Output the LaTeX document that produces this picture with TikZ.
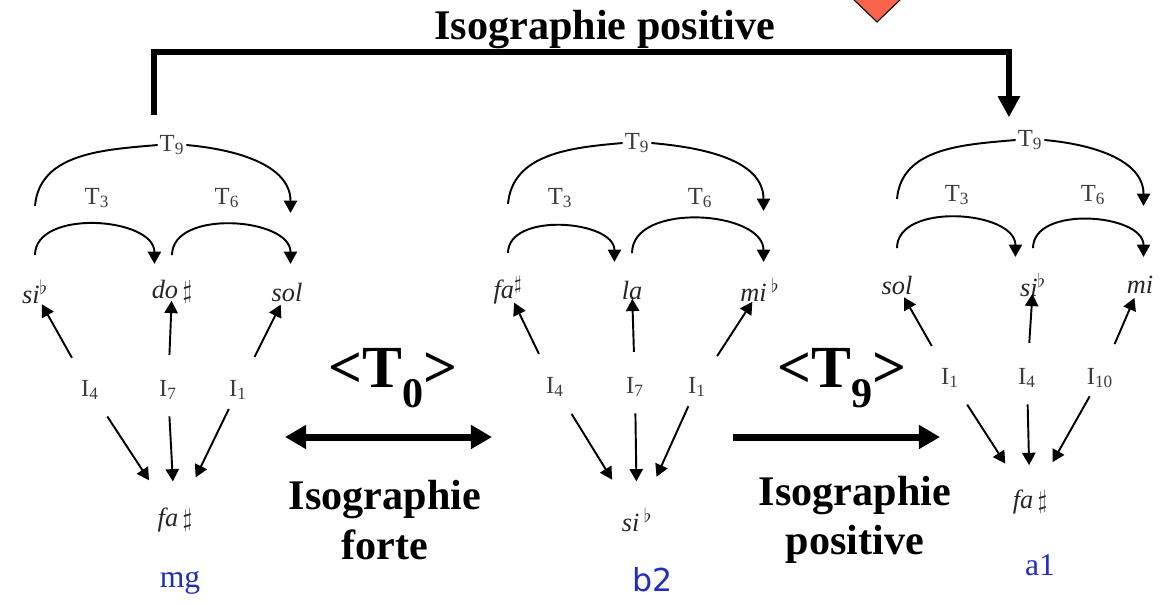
\documentclass[tikz,border=0pt]{standalone}
\usepackage{fontspec}
\setmainfont{Liberation Serif}
\setsansfont{DejaVu Sans}
\usetikzlibrary{arrows.meta, positioning, calc}
\definecolor{grpblue}  {RGB}{ 35,  45, 190}
\definecolor{marker}   {RGB}{250, 100,  75}
\definecolor{labgray}  {RGB}{ 60,  60,  60}

\begin{document}
\begin{tikzpicture}[x=0.02cm, y=-0.02cm,
		tlab/.style={text=labgray, font=\fontsize{14}{16}\selectfont, inner sep=1pt},
		note/.style={text=black!85, font=\fontsize{15}{17}\selectfont\itshape, inner sep=1pt},
		grp/.style={text=grpblue, font=\fontsize{18}{20}\selectfont},
		iso/.style={font=\fontsize{24}{28}\selectfont\bfseries, align=center},
		big/.style={font=\fontsize{34}{38}\selectfont\bfseries},
		tline/.style={line width=1.1pt},
		tarr/.style={line width=1.1pt, -{Triangle[width=7.5pt,length=7pt]}},
		fat/.style={line width=4pt}]
				\clip (0,0) rectangle (1165,603);
				\fill[marker, draw=black, line width=0.6pt] (851,-3) -- (903,-3) -- (877,22) -- cycle;
				\node[iso] (title) at (605,30) {Isographie positive};

				% mg
				\node[note] (g1L) at (35,292) {si$^\flat$};
				\node[note] (g1M) at (172,292) {do\,$\sharp$};
				\node[note] (g1R) at (287,292) {sol};
				\node[tlab] (g1T9) at (172,145) {T\textsubscript{9}};
				\node[tlab] (g1T3) at (97,198) {T\textsubscript{3}};
				\node[tlab] (g1T6) at (227,198) {T\textsubscript{6}};
				\node[tlab] (g1Ia) at (90,390) {I\textsubscript{4}};
				\node[tlab] (g1Ib) at (168,390) {I\textsubscript{7}};
				\node[tlab] (g1Ic) at (238,390) {I\textsubscript{1}};
				\node[note] (g1B) at (175,520) {fa\,$\sharp$};
				\node[grp] (g1N) at (180,583) {mg};
				\draw[tarr] ([yshift=21pt]g1L.center) to[out=90,in=90] ([xshift=-10pt,yshift=16pt]g1M.center);
				\draw[tarr] ([yshift=21pt]g1M.center) to[out=90,in=90] ([xshift=2pt,yshift=16pt]g1R.center);
				\draw[tline] ([yshift=49pt]g1L.center) to[out=85,in=185] (g1T9.west);
				\draw[tarr] (g1T9.east) to[out=-5,in=90] ([xshift=2pt,yshift=45pt]g1R.center);
				\draw[tarr, shorten <=21pt, shorten >=8pt] (g1Ia.center) -- (g1L.center);
				\draw[tarr, shorten <=20pt, shorten >=5pt] (g1Ib.center) -- (g1M.center);
				\draw[tarr, shorten <=21pt, shorten >=8pt] (g1Ic.center) -- (g1R.center);
				\draw[tarr, shorten <=18pt, shorten >=27pt] (g1Ia.center) -- (g1B.center);
				\draw[tarr, shorten <=15pt, shorten >=22pt] (g1Ib.center) -- (g1B.center);
				\draw[tarr, shorten <=12pt, shorten >=27pt] (g1Ic.center) -- (g1B.center);

				% b2
				\node[note] (g2L) at (508,290) {fa$^\sharp$};
				\node[note] (g2M) at (632,290) {la};
				\node[note] (g2R) at (760,290) {mi\,$^\flat$};
				\node[tlab] (g2T9) at (637,143) {T\textsubscript{9}};
				\node[tlab] (g2T3) at (560,198) {T\textsubscript{3}};
				\node[tlab] (g2T6) at (700,198) {T\textsubscript{6}};
				\node[tlab] (g2Ia) at (555,387) {I\textsubscript{4}};
				\node[tlab] (g2Ib) at (635,387) {I\textsubscript{7}};
				\node[tlab] (g2Ic) at (697,387) {I\textsubscript{1}};
				\node[note] (g2B) at (637,520) {si\,$^\flat$};
				\node[grp, font=\sffamily\fontsize{18}{20}\selectfont] (g2N) at (653,580) {b2};
				\draw[tarr] ([yshift=21pt]g2L.center) to[out=90,in=90] ([xshift=-10pt,yshift=16pt]g2M.center);
				\draw[tarr] ([yshift=21pt]g2M.center) to[out=90,in=90] ([xshift=2pt,yshift=16pt]g2R.center);
				\draw[tline] ([yshift=49pt]g2L.center) to[out=85,in=185] (g2T9.west);
				\draw[tarr] (g2T9.east) to[out=-5,in=90] ([xshift=2pt,yshift=45pt]g2R.center);
				\draw[tarr, shorten <=21pt, shorten >=8pt] (g2Ia.center) -- (g2L.center);
				\draw[tarr, shorten <=20pt, shorten >=5pt] (g2Ib.center) -- (g2M.center);
				\draw[tarr, shorten <=21pt, shorten >=8pt] (g2Ic.center) -- (g2R.center);
				\draw[tarr, shorten <=18pt, shorten >=27pt] (g2Ia.center) -- (g2B.center);
				\draw[tarr, shorten <=15pt, shorten >=22pt] (g2Ib.center) -- (g2B.center);
				\draw[tarr, shorten <=12pt, shorten >=27pt] (g2Ic.center) -- (g2B.center);

				% a1
				\node[note] (g3L) at (897,285) {sol};
				\node[note] (g3M) at (1033,285) {si$^\flat$};
				\node[note] (g3R) at (1140,285) {mi};
				\node[tlab] (g3T9) at (1030,140) {T\textsubscript{9}};
				\node[tlab] (g3T3) at (957,195) {T\textsubscript{3}};
				\node[tlab] (g3T6) at (1093,195) {T\textsubscript{6}};
				\node[tlab] (g3Ia) at (950,378) {I\textsubscript{1}};
				\node[tlab] (g3Ib) at (1027,378) {I\textsubscript{4}};
				\node[tlab] (g3Ic) at (1100,378) {I\textsubscript{10}};
				\node[note] (g3B) at (1030,502) {fa\,$\sharp$};
				\node[grp] (g3N) at (1040,565) {a1};
				\draw[tarr] ([yshift=21pt]g3L.center) to[out=90,in=90] ([xshift=-10pt,yshift=16pt]g3M.center);
				\draw[tarr] ([yshift=21pt]g3M.center) to[out=90,in=90] ([xshift=2pt,yshift=16pt]g3R.center);
				\draw[tline] ([yshift=49pt]g3L.center) to[out=85,in=185] (g3T9.west);
				\draw[tarr] (g3T9.east) to[out=-5,in=90] ([xshift=2pt,yshift=45pt]g3R.center);
				\draw[tarr, shorten <=21pt, shorten >=8pt] (g3Ia.center) -- (g3L.center);
				\draw[tarr, shorten <=20pt, shorten >=5pt] (g3Ib.center) -- (g3M.center);
				\draw[tarr, shorten <=21pt, shorten >=8pt] (g3Ic.center) -- (g3R.center);
				\draw[tarr, shorten <=18pt, shorten >=26pt] (g3Ia.center) -- (g3B.center);
				\draw[tarr, shorten <=15pt, shorten >=21pt] (g3Ib.center) -- (g3B.center);
				\draw[tarr, shorten <=12pt, shorten >=26pt] (g3Ic.center) -- (g3B.center);

				% links between the groups
				\coordinate (top) at (580,52);
				\draw[line width=3.4pt, -{Triangle[width=12pt,length=12pt]}]
					([xshift=-10pt,yshift=10pt]g1T9.north) |- (top) -| ([xshift=-12pt,yshift=6pt]g3T9.north);
				\node[big] (t0) at (393,378) {<T\raisebox{-11pt}{\fontsize{24}{26}\selectfont 0}>};
				\node[big] (t9) at (842,378) {<T\raisebox{-11pt}{\fontsize{24}{26}\selectfont 9}>};
				\coordinate (a0) at (285,437);
				\coordinate (b0) at (492,437);
				\coordinate (a9) at (733,437);
				\coordinate (b9) at (940,437);
				\draw[fat, {Triangle[width=13pt,length=12pt]}-{Triangle[width=13pt,length=12pt]}] (a0) -- (b0);
				\draw[fat, -{Triangle[width=13pt,length=12pt]}] (a9) -- (b9);
				\node[iso] (iso1) at (385,520) {Isographie\\forte};
				\node[iso] (iso2) at (855,520) {Isographie\\positive};
			\end{tikzpicture}
\end{document}
